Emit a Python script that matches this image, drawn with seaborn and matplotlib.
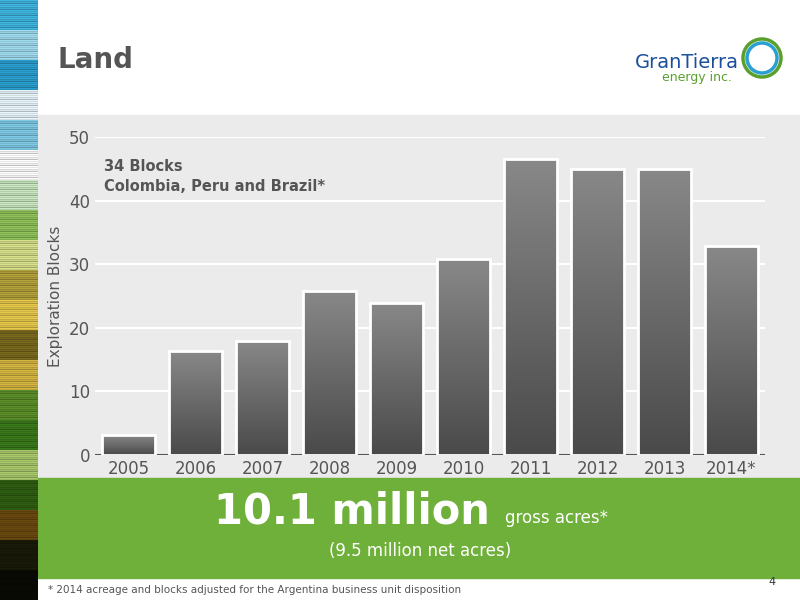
import matplotlib
matplotlib.use("Agg")
import matplotlib.pyplot as plt
import matplotlib.patches as mpatches
from matplotlib.colors import LinearSegmentedColormap, to_rgb
import seaborn as sns
import numpy as np
import pandas as pd

years = ["2005", "2006", "2007", "2008", "2009", "2010", "2011", "2012", "2013", "2014*"]
blocks = [3.1, 16.3, 18.0, 25.8, 23.9, 30.8, 46.5, 45.0, 45.0, 32.9]
yticks = [0, 10, 20, 30, 40, 50]

df = pd.DataFrame({"year": years, "blocks": blocks})

sns.set_theme(style="white")
plt.rcParams["font.family"] = ["DejaVu Sans"]

fig = plt.figure(figsize=(8, 6), dpi=100)
fig.patch.set_facecolor("white")

# background axes for the gray and green bands
bg = fig.add_axes([0, 0, 1, 1], zorder=-5)
bg.set_xlim(0, 800)
bg.set_ylim(600, 0)
bg.axis("off")
bg.add_patch(mpatches.Rectangle((38, 115), 762, 363, color="#ebebeb"))
bg.add_patch(mpatches.Rectangle((38, 478), 762, 100, color="#6fb03a"))
for r, c in [(19, "#5aa02c"), (15, "#2a9fd0")]:
    bg.add_patch(mpatches.Circle((762, 58), r, fill=False, ec=c, lw=2.5))

# left decorative strip
strip_cols = ["#3fb6e0", "#9fdcf0", "#2a9fd0", "#e8f6fb", "#7fcbe6", "#ffffff", "#c9e7c0",
              "#8fc25a", "#d7e08a", "#b3a13a", "#e6c84a", "#7a6a1e", "#d4b640", "#5c8f2a",
              "#3a7a1a", "#a8c86a", "#2f5f12", "#6b4a10", "#1a1a08", "#0a0a05"]
rgb = np.array([to_rgb(c) for c in strip_cols])
rows = np.repeat(rgb, 30, axis=0)
jitter = np.tile(np.array([1.0, 0.85, 0.95, 0.75, 1.0, 0.9]), len(rows) // 6 + 1)[:len(rows)]
rows = np.clip(rows * jitter[:, None], 0, 1)
sax = fig.add_axes([0, 0, 38/800, 1])
sax.imshow(rows[:, None, :], aspect="auto")
sax.axis("off")

ax = fig.add_axes([95/800, 1-455/600, 670/800, 318/600])
ax.patch.set_alpha(0)
sns.barplot(data=df, x="year", y="blocks", color="#6e6e6e", edgecolor="white",
            linewidth=2, width=0.8, ax=ax)
ax.yaxis.grid(True, color="white", linewidth=1.5)
ax.set_axisbelow(True)
for s in ax.spines.values():
    s.set_visible(False)
ax.axhline(0, color="#555555", linewidth=1.5)

cmap = LinearSegmentedColormap.from_list("g", ["#888888", "#4a4a4a"])
grad = np.linspace(0, 1, 100)[:, None]
for p in list(ax.patches):
    x0, w, h = p.get_x(), p.get_width(), p.get_height()
    im = ax.imshow(grad, extent=[x0, x0 + w, 0, h], cmap=cmap, aspect="auto", zorder=2.5)
    im.set_clip_path(p)
    p.set_zorder(2.6)
    p.set_facecolor("none")
ax.set_xlim(-0.5, 9.5)
ax.set_ylim(0, 50)
ax.set_yticks(yticks)

ax.tick_params(axis="both", length=0, labelsize=12, colors="#555555")
ax.set_xlabel("")
ax.set_ylabel("Exploration Blocks", fontsize=11, color="#555555", labelpad=4)
ax.text(-0.37, 46.5, "34 Blocks\nColombia, Peru and Brazil*", fontsize=10.5, fontweight="bold",
        color="#555555", va="top", linespacing=1.4)

fig.text(58/800, 1-60/600, "Land", fontsize=20, fontweight="bold", color="#555555", va="center")
fig.text(635/800, 1-62/600, "GranTierra", fontsize=14, color="#1a4f9c", va="center")
fig.text(732/800, 1-78/600, "energy inc.", fontsize=9, color="#5aa02c", va="center", ha="right")

fig.text(490/800, 1-512/600, "10.1 million", fontsize=30, fontweight="bold", color="white",
         ha="right", va="center")
fig.text(505/800, 1-518/600, "gross acres*", fontsize=12, color="white", va="center")
fig.text(420/800, 1-551/600, "(9.5 million net acres)", fontsize=12, color="white", ha="center",
         va="center")
fig.text(48/800, 1-590/600, "* 2014 acreage and blocks adjusted for the Argentina business unit disposition",
         fontsize=7.5, color="#555555", va="center")
fig.text(768/800, 1-582/600, "4", fontsize=8, color="#333333", va="center")

fig.savefig("out.png", dpi=100)
